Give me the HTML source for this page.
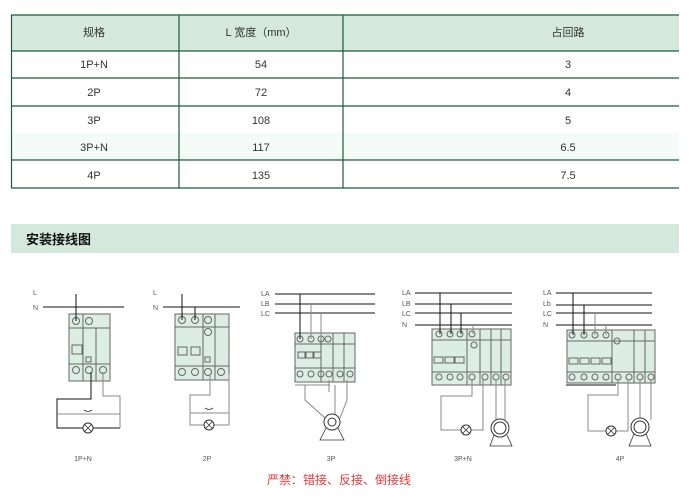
<!DOCTYPE html>
<html><head><meta charset="utf-8"><style>
body{margin:0;width:700px;height:499px;background:#fff;overflow:hidden;font-family:"Liberation Sans","Noto Sans CJK SC",sans-serif;}
svg{position:absolute;left:0;top:0}
</style></head><body>
<svg width="700" height="499" viewBox="0 0 700 499" font-family="Liberation Sans, Noto Sans CJK SC, sans-serif">
<!-- table -->
<rect x="11" y="15" width="668" height="36" fill="#d4e9dc"/>
<rect x="11" y="133" width="668" height="27" fill="#f4fbf8"/>
<g stroke="#1d5a3e" stroke-width="1.2" fill="none">
<line x1="11" y1="15" x2="679" y2="15"/>
<line x1="11" y1="51" x2="679" y2="51"/>
<line x1="11" y1="78" x2="679" y2="78"/>
<line x1="11" y1="106" x2="679" y2="106"/>
<line x1="11" y1="160" x2="679" y2="160"/>
<line x1="11" y1="188" x2="679" y2="188"/>
<line x1="11.5" y1="15" x2="11.5" y2="188"/>
<line x1="179" y1="15" x2="179" y2="188"/>
<line x1="343" y1="15" x2="343" y2="188"/>
</g>
<g font-size="11" fill="#333" text-anchor="middle">
<text x="94" y="36">规格</text><text x="261" y="36">L 宽度（mm）</text><text x="568" y="36">占回路</text>
<text x="94" y="68">1P+N</text><text x="261" y="68">54</text><text x="568" y="68">3</text>
<text x="94" y="96">2P</text><text x="261" y="96">72</text><text x="568" y="96">4</text>
<text x="94" y="124">3P</text><text x="261" y="124">108</text><text x="568" y="124">5</text>
<text x="94" y="151">3P+N</text><text x="261" y="151">117</text><text x="568" y="151">6.5</text>
<text x="94" y="179">4P</text><text x="261" y="179">135</text><text x="568" y="179">7.5</text>
</g>
<!-- section bar -->
<rect x="11" y="224" width="668" height="29" fill="#d4e9dc"/>
<text x="26" y="244" font-size="13" font-weight="bold" fill="#111">安装接线图</text>

<g font-size="7" fill="#555">
<text x="33" y="295">L</text><text x="33" y="310">N</text>
<text x="153" y="295">L</text><text x="153" y="310">N</text>
<text x="261" y="296">LA</text><text x="261" y="306">LB</text><text x="261" y="316">LC</text>
<text x="402" y="295">LA</text><text x="402" y="306">LB</text><text x="402" y="316">LC</text><text x="402" y="327">N</text>
<text x="543" y="295">LA</text><text x="543" y="306">Lb</text><text x="543" y="316">LC</text><text x="543" y="327">N</text>
</g>
<g font-size="7" fill="#555" text-anchor="middle">
<text x="83" y="461">1P+N</text><text x="207" y="461">2P</text><text x="331" y="461">3P</text><text x="463" y="461">3P+N</text><text x="620" y="461">4P</text>
</g>
<text x="267" y="484" font-size="12" fill="#e03a3a">严禁：错接、反接、倒接线</text>

<g stroke="#111" stroke-width="1" fill="none">
<!-- supply lines -->
<line x1="43" y1="307" x2="124" y2="307"/>
<line x1="163" y1="307" x2="240" y2="307"/>
<line x1="275" y1="294" x2="375" y2="294"/><line x1="275" y1="304" x2="375" y2="304"/><line x1="275" y1="313" x2="375" y2="313"/>
<line x1="415" y1="293" x2="512" y2="293"/><line x1="415" y1="304" x2="512" y2="304"/><line x1="415" y1="313" x2="512" y2="313"/><line x1="415" y1="325" x2="512" y2="325"/>
<line x1="556" y1="293" x2="652" y2="293"/><line x1="556" y1="305" x2="652" y2="305"/><line x1="556" y1="313" x2="652" y2="313"/><line x1="556" y1="325" x2="652" y2="325"/>
</g>

<!-- breaker boxes -->
<g fill="#dcede3" stroke="#666" stroke-width="1">
<rect x="69" y="314" width="41" height="67"/>
<rect x="175" y="314" width="54" height="66"/>
<rect x="295" y="333" width="60" height="49"/>
<rect x="432" y="329" width="79" height="56"/>
<rect x="567" y="330" width="88" height="53"/>
</g>
<g stroke="#666" stroke-width="1" fill="none">
<!-- 1P+N -->
<line x1="69" y1="328" x2="110" y2="328"/><line x1="69" y1="364" x2="110" y2="364"/><line x1="96" y1="328" x2="96" y2="381"/><line x1="83" y1="314" x2="83" y2="381"/>
<rect x="72" y="345" width="10" height="9"/><rect x="86" y="357" width="5" height="5"/>
<circle cx="76" cy="321" r="3.5"/><circle cx="89" cy="321" r="3.5"/><circle cx="76" cy="370" r="3.5"/><circle cx="89" cy="370" r="3.5"/><circle cx="103" cy="370" r="3.5"/>
<!-- 2P -->
<line x1="175" y1="327" x2="229" y2="327"/><line x1="175" y1="366" x2="229" y2="366"/><line x1="215" y1="314" x2="215" y2="380"/><line x1="203" y1="314" x2="203" y2="380"/>
<rect x="178" y="347" width="9" height="8"/><rect x="191" y="347" width="9" height="8"/><rect x="205" y="357" width="5" height="5"/>
<circle cx="182" cy="320" r="3.5"/><circle cx="195" cy="320" r="3.5"/><circle cx="208" cy="320" r="3.5"/><circle cx="208" cy="332" r="3.5"/>
<circle cx="182" cy="372" r="3.5"/><circle cx="195" cy="372" r="3.5"/><circle cx="208" cy="372" r="3.5"/><circle cx="221" cy="372" r="3.5"/>
<!-- 3P -->
<line x1="295" y1="344" x2="355" y2="344"/><line x1="295" y1="368" x2="355" y2="368"/><line x1="333" y1="333" x2="333" y2="382"/><line x1="344" y1="333" x2="344" y2="382"/><line x1="321" y1="333" x2="321" y2="382"/>
<rect x="298" y="352" width="7" height="6"/><rect x="306" y="352" width="7" height="6"/><rect x="314" y="352" width="7" height="6"/>
<circle cx="300" cy="339" r="3"/><circle cx="311" cy="339" r="3"/><circle cx="321" cy="339" r="3"/><circle cx="328" cy="339" r="3"/>
<circle cx="300" cy="374" r="3"/><circle cx="311" cy="374" r="3"/><circle cx="321" cy="374" r="3"/><circle cx="329" cy="374" r="3"/><circle cx="340" cy="374" r="3"/><circle cx="350" cy="374" r="3"/>
<!-- 3P+N -->
<line x1="432" y1="340" x2="511" y2="340"/><line x1="432" y1="372" x2="511" y2="372"/><line x1="480" y1="329" x2="480" y2="385"/><line x1="491" y1="329" x2="491" y2="385"/><line x1="501" y1="329" x2="501" y2="385"/><line x1="467" y1="329" x2="467" y2="385"/>
<rect x="434" y="357" width="9" height="6"/><rect x="445" y="357" width="9" height="6"/><rect x="455" y="357" width="9" height="6"/>
<circle cx="439" cy="334" r="3"/><circle cx="450" cy="334" r="3"/><circle cx="460" cy="334" r="3"/><circle cx="472" cy="334" r="3"/><circle cx="474" cy="345" r="3"/>
<circle cx="439" cy="377" r="3"/><circle cx="450" cy="377" r="3"/><circle cx="460" cy="377" r="3"/><circle cx="472" cy="377" r="3"/><circle cx="485" cy="377" r="3"/><circle cx="496" cy="377" r="3"/><circle cx="506" cy="377" r="3"/>
<!-- 4P -->
<line x1="567" y1="341" x2="655" y2="341"/><line x1="567" y1="372" x2="655" y2="372"/><line x1="612" y1="330" x2="612" y2="383"/><line x1="634" y1="330" x2="634" y2="383"/><line x1="645" y1="330" x2="645" y2="383"/>
<rect x="569" y="358" width="9" height="6"/><rect x="580" y="358" width="9" height="6"/><rect x="591" y="358" width="9" height="6"/><rect x="602" y="358" width="9" height="6"/>
<circle cx="572" cy="335" r="3"/><circle cx="584" cy="335" r="3"/><circle cx="595" cy="335" r="3"/><circle cx="606" cy="335" r="3"/><circle cx="617" cy="341" r="3"/>
<circle cx="572" cy="377" r="3"/><circle cx="584" cy="377" r="3"/><circle cx="595" cy="377" r="3"/><circle cx="606" cy="377" r="3"/><circle cx="618" cy="377" r="3"/><circle cx="629" cy="377" r="3"/><circle cx="640" cy="377" r="3"/><circle cx="651" cy="377" r="3"/>
</g>

<!-- wiring -->
<g stroke="#111" stroke-width="1" fill="none">
<line x1="76" y1="294" x2="76" y2="321"/>
<polyline points="91,372 91,399 57,399 57,428 120,428"/>
<line x1="182" y1="294" x2="182" y2="320"/>
<line x1="195" y1="307" x2="195" y2="320"/>
<line x1="300" y1="294" x2="300" y2="339"/>
<line x1="451" y1="304" x2="451" y2="334"/><line x1="461" y1="313" x2="461" y2="334"/><line x1="440" y1="293" x2="440" y2="334"/>
<line x1="573" y1="293" x2="573" y2="335"/><line x1="584" y1="305" x2="584" y2="335"/>
<line x1="566" y1="385" x2="616" y2="385"/>
</g>
<g stroke="#888" stroke-width="1" fill="none">
<polyline points="103,372 103,396 120,396 120,428"/>
<line x1="57" y1="414" x2="120" y2="414"/>
<polyline points="210,374 210,395 190,395 190,425 229,425"/>
<line x1="229" y1="374" x2="229" y2="425"/><line x1="190" y1="413" x2="229" y2="413"/>
<line x1="311" y1="304" x2="311" y2="339"/><line x1="321" y1="313" x2="321" y2="339"/>
<polyline points="295,385 330,385"/><polyline points="305,385 305,400 325,418"/>
<polyline points="335,385 335,418"/><polyline points="347,380 347,400 340,418"/>
<polyline points="329,380 329,392"/>
<polyline points="473,325 473,334"/>
<polyline points="472,380 472,396 441,396 441,430 462,430"/><polyline points="470,430 483,430 483,380"/>
<line x1="496" y1="380" x2="496" y2="420"/><line x1="505" y1="380" x2="505" y2="420"/>
<line x1="595" y1="313" x2="595" y2="335"/><line x1="606" y1="325" x2="606" y2="335"/>
<polyline points="618,380 618,395 588,395 588,431 607,431"/><polyline points="615,431 628,431 628,380"/>
<line x1="640" y1="380" x2="640" y2="420"/><line x1="651" y1="380" x2="651" y2="420"/>
</g>
<!-- lamps and motors -->
<g stroke="#333" stroke-width="1" fill="#fff">
<circle cx="88" cy="428" r="5"/><circle cx="209" cy="425" r="5"/><circle cx="466" cy="430" r="5"/><circle cx="611" cy="431" r="5"/>
<circle cx="332" cy="422" r="8"/><circle cx="332" cy="422" r="4"/>
<circle cx="500" cy="428" r="9"/><circle cx="500" cy="428" r="6"/>
<circle cx="640" cy="427" r="9"/><circle cx="640" cy="427" r="6"/>
</g>
<g stroke="#333" stroke-width="0.8" fill="none">
<path d="M84.5,424.5l7,7M91.5,424.5l-7,7M205.5,421.5l7,7M212.5,421.5l-7,7M462.5,426.5l7,7M469.5,426.5l-7,7M607.5,427.5l7,7M614.5,427.5l-7,7"/>
<path d="M326,428 L320,440 H344 L338,428"/>
<path d="M494,435 L490,446 H512 L507,435"/>
<path d="M634,434 L629,446 H651 L646,434"/>
<path d="M84,410 q4,3 8,0 M205,408 q4,3 8,0"/>
</g>
</svg>
</body></html>
